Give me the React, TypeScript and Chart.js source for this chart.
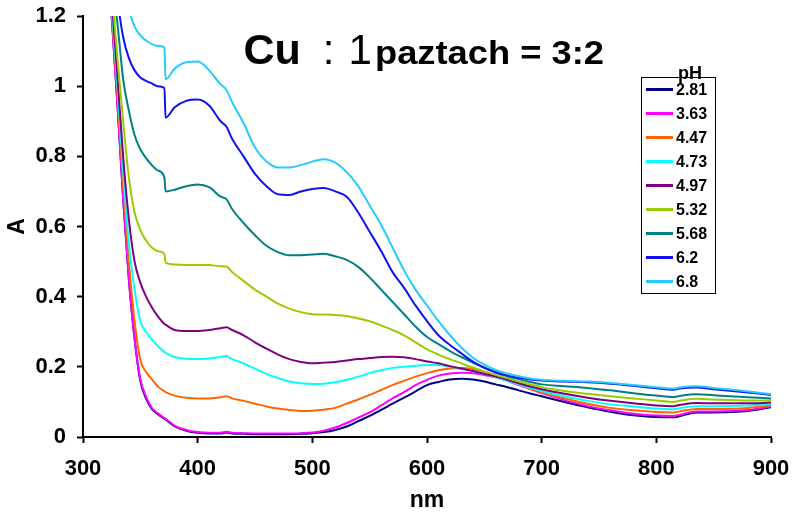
import React, { useEffect, useRef } from "react";
import { Chart, registerables } from "chart.js";

Chart.register(...registerables);

const wavelengths = [320, 325, 330, 335, 340, 345, 350, 355, 360, 365,
  371, 372, 380, 390, 400, 410, 420, 425, 430, 440,
  450, 460, 470, 480, 490, 500, 510, 520, 530, 540,
  550, 560, 570, 580, 590, 600, 610, 620, 630, 640,
  650, 660, 670, 680, 690, 700, 720, 740, 760, 780,
  800, 815, 820, 835, 850, 880, 900];

const pH281 = [1.5, 1.2, 0.95, 0.68, 0.45, 0.28, 0.16, 0.11, 0.08, 0.066,
  0.052, 0.05, 0.03, 0.018, 0.012, 0.01, 0.01, 0.013, 0.01, 0.009,
  0.008, 0.008, 0.008, 0.008, 0.009, 0.011, 0.014, 0.02, 0.03, 0.045,
  0.06, 0.077, 0.095, 0.112, 0.13, 0.148, 0.157, 0.164, 0.166, 0.164,
  0.158, 0.15, 0.142, 0.133, 0.124, 0.116, 0.1, 0.085, 0.072, 0.062,
  0.057, 0.056, 0.059, 0.07, 0.07, 0.074, 0.085];
const pH363 = [1.5, 1.2, 0.95, 0.68, 0.45, 0.28, 0.165, 0.115, 0.083, 0.068,
  0.054, 0.052, 0.032, 0.02, 0.014, 0.012, 0.012, 0.015, 0.012, 0.011,
  0.01, 0.01, 0.01, 0.01, 0.011, 0.013, 0.018, 0.027, 0.04, 0.055,
  0.07, 0.09, 0.11, 0.128, 0.148, 0.163, 0.175, 0.181, 0.183, 0.182,
  0.177, 0.17, 0.16, 0.148, 0.137, 0.125, 0.105, 0.088, 0.076, 0.066,
  0.061, 0.06, 0.063, 0.073, 0.073, 0.077, 0.087];
const pH447 = [1.5, 1.22, 0.98, 0.72, 0.5, 0.33, 0.22, 0.185, 0.165, 0.145,
  0.13, 0.128, 0.118, 0.112, 0.11, 0.11, 0.113, 0.116, 0.11, 0.103,
  0.095, 0.087, 0.081, 0.077, 0.074, 0.075, 0.078, 0.083, 0.095, 0.107,
  0.12, 0.134, 0.148, 0.16, 0.172, 0.182, 0.19, 0.195, 0.197, 0.194,
  0.186, 0.174, 0.162, 0.15, 0.138, 0.127, 0.11, 0.095, 0.083, 0.076,
  0.071, 0.07, 0.073, 0.08, 0.08, 0.083, 0.09];
const pH473 = [1.5, 1.23, 1.0, 0.76, 0.55, 0.42, 0.33, 0.3, 0.278, 0.26,
  0.242, 0.24, 0.228, 0.223, 0.222, 0.224, 0.228, 0.231, 0.222, 0.21,
  0.195, 0.18, 0.168, 0.158, 0.153, 0.151, 0.152, 0.156, 0.163, 0.172,
  0.182, 0.19, 0.197, 0.2, 0.203, 0.205, 0.205, 0.2, 0.194, 0.188,
  0.18, 0.17, 0.16, 0.15, 0.14, 0.131, 0.116, 0.103, 0.093, 0.087,
  0.081, 0.079, 0.082, 0.088, 0.088, 0.09, 0.094];
const pH497 = [1.5, 1.25, 1.03, 0.8, 0.62, 0.5, 0.44, 0.4, 0.37, 0.345,
  0.322, 0.32, 0.305, 0.302, 0.302, 0.305, 0.31, 0.313, 0.305, 0.29,
  0.27, 0.252, 0.235, 0.222, 0.214, 0.21, 0.212, 0.214, 0.218, 0.222,
  0.225, 0.228, 0.229, 0.227, 0.222, 0.215, 0.21, 0.202, 0.195, 0.188,
  0.18, 0.172, 0.163, 0.153, 0.144, 0.136, 0.123, 0.112, 0.103, 0.096,
  0.09, 0.088, 0.091, 0.097, 0.096, 0.096, 0.098];
const pH532 = [1.5, 1.28, 1.08, 0.9, 0.74, 0.64, 0.59, 0.56, 0.54, 0.53,
  0.522, 0.497, 0.492, 0.49, 0.49, 0.49, 0.487, 0.486, 0.47, 0.445,
  0.42, 0.4, 0.38, 0.366, 0.356, 0.35, 0.349, 0.348, 0.345, 0.338,
  0.33, 0.318, 0.305, 0.29, 0.27, 0.25, 0.235, 0.222, 0.21, 0.198,
  0.187, 0.177, 0.168, 0.158, 0.15, 0.142, 0.131, 0.123, 0.116, 0.11,
  0.104, 0.1, 0.103, 0.109, 0.107, 0.104, 0.104];
const pH568 = [1.5, 1.3, 1.18, 1.02, 0.93, 0.86, 0.82, 0.795, 0.775, 0.76,
  0.74, 0.70, 0.705, 0.715, 0.72, 0.712, 0.685, 0.678, 0.65, 0.61,
  0.575, 0.545, 0.527, 0.518, 0.518, 0.52, 0.522, 0.515, 0.505, 0.485,
  0.455, 0.42, 0.385, 0.35, 0.315, 0.285, 0.265, 0.245, 0.228, 0.212,
  0.198, 0.185, 0.174, 0.165, 0.157, 0.15, 0.145, 0.14, 0.133, 0.125,
  0.118, 0.114, 0.117, 0.122, 0.119, 0.113, 0.11];
const pH62 = [1.6, 1.4, 1.25, 1.14, 1.08, 1.045, 1.025, 1.015, 1.008, 1.0,
  0.995, 0.91, 0.94, 0.958, 0.962, 0.945, 0.9, 0.885, 0.85, 0.8,
  0.75, 0.715, 0.692, 0.69, 0.7, 0.707, 0.71, 0.7, 0.685, 0.64,
  0.585, 0.53, 0.47, 0.425, 0.375, 0.33, 0.29, 0.262, 0.238, 0.215,
  0.197, 0.184, 0.175, 0.169, 0.164, 0.161, 0.158, 0.156, 0.152, 0.146,
  0.139, 0.135, 0.138, 0.141, 0.136, 0.127, 0.12];
const pH68 = [1.7, 1.55, 1.4, 1.3, 1.22, 1.17, 1.145, 1.13, 1.12, 1.115,
  1.11, 1.02, 1.05, 1.068, 1.07, 1.045, 1.005, 0.99, 0.955, 0.895,
  0.825, 0.785, 0.768, 0.768, 0.775, 0.785, 0.792, 0.782, 0.755, 0.715,
  0.66, 0.605, 0.54, 0.475, 0.42, 0.375, 0.33, 0.29, 0.255, 0.226,
  0.206, 0.191, 0.181, 0.173, 0.167, 0.163, 0.16, 0.158, 0.154, 0.148,
  0.142, 0.138, 0.141, 0.145, 0.14, 0.13, 0.122];

const seriesLabels = ["2.81", "3.63", "4.47", "4.73", "4.97", "5.32", "5.68", "6.2", "6.8"];
const seriesValues = [pH281, pH363, pH447, pH473, pH497, pH532, pH568, pH62, pH68];
const seriesColors = ["#000080", "#FF00FF", "#FF6600", "#00FFFF", "#800080", "#99CC00", "#008080", "#1010F0", "#22CCFF"];

const xTicks = [300, 400, 500, 600, 700, 800, 900];
const yTicks = [0, 0.2, 0.4, 0.6, 0.8, 1, 1.2];
const legendTitle = "pH";
const xTitle = "nm";
const yTitle = "A";

const FONT = "'Liberation Sans', Arial, Helvetica, sans-serif";

const overlayPlugin = {
  id: "overlay",
  afterDraw(chart: any) {
    const ctx = chart.ctx as CanvasRenderingContext2D;
    ctx.save();
    ctx.fillStyle = "#000";
    ctx.textBaseline = "alphabetic";
    // Title
    ctx.textAlign = "left";
    ctx.font = `bold 43px ${FONT}`;
    ctx.fillText("Cu", 243.5, 64);
    ctx.font = `42px ${FONT}`;
    ctx.textAlign = "center";
    ctx.fillText(":", 328.5, 64);
    ctx.textAlign = "left";
    ctx.fillText("1", 348.5, 64);
    ctx.font = `bold 34px ${FONT}`;
    const rest = "paztach = 3:2";
    const w = ctx.measureText(rest).width;
    ctx.save();
    ctx.translate(375, 64);
    ctx.scale(229 / w, 1);
    ctx.fillText(rest, 0, 0);
    ctx.restore();

    // Legend
    const bx = 641, by = 77, bw = 74, bh = 216;
    ctx.fillStyle = "#fff";
    ctx.fillRect(bx, by, bw, bh);
    ctx.strokeStyle = "#000";
    ctx.lineWidth = 1;
    ctx.strokeRect(bx + 0.5, by + 0.5, bw, bh);
    ctx.fillStyle = "#000";
    ctx.font = `bold 18px ${FONT}`;
    ctx.textAlign = "center";
    ctx.fillText(legendTitle, 690, 79);
    ctx.textAlign = "left";
    ctx.textBaseline = "middle";
    ctx.font = `bold 16px ${FONT}`;
    seriesLabels.forEach((lab, i) => {
      const cy = 89.5 + i * 24;
      ctx.strokeStyle = seriesColors[i];
      ctx.lineWidth = 3;
      ctx.beginPath();
      ctx.moveTo(646, cy);
      ctx.lineTo(673, cy);
      ctx.stroke();
      ctx.fillStyle = "#000";
      ctx.fillText(lab, 676, cy + 1);
    });
    ctx.restore();
  },
};

export default function App() {
  const ref = useRef<HTMLCanvasElement | null>(null);
  useEffect(() => {
    if (!ref.current) return;
    const datasets = seriesLabels.map((lab, i) => ({
      label: lab,
      data: wavelengths.map((x, j) => ({ x, y: seriesValues[i][j] })),
      borderColor: seriesColors[i],
      backgroundColor: seriesColors[i],
      borderWidth: 2,
      pointRadius: 0,
      fill: false,
      cubicInterpolationMode: "monotone" as const,
      order: seriesLabels.length - i,
    }));
    const chart = new Chart(ref.current, {
      type: "line",
      data: { datasets },
      options: {
        animation: false,
        responsive: false,
        devicePixelRatio: 1,
        layout: { padding: { left: 0, right: 21, top: 16, bottom: 0 } },
        plugins: { legend: { display: false }, tooltip: { enabled: false }, title: { display: false } },
        scales: {
          x: {
            type: "linear",
            min: 300,
            max: 900,
            afterBuildTicks: (s: any) => { s.ticks = xTicks.map((v) => ({ value: v })); },
            afterFit: (s: any) => { s.height = 78; s.paddingLeft = 0; s.paddingRight = 0; },
            grid: { drawOnChartArea: false, drawTicks: true, tickLength: 6, tickColor: "#000", tickWidth: 2 },
            border: { display: true, color: "#000", width: 2 },
            ticks: { color: "#000", font: { family: FONT, size: 22, weight: "bold" }, padding: 13, maxRotation: 0 },
            title: { display: true, text: xTitle, color: "#000", font: { family: FONT, size: 23, weight: "bold" }, padding: { top: 0, bottom: 1 } },
          },
          y: {
            type: "linear",
            min: 0,
            max: 1.2,
            afterBuildTicks: (s: any) => { s.ticks = yTicks.map((v) => ({ value: v })); },
            ticks: { color: "#000", font: { family: FONT, size: 22, weight: "bold" }, padding: 11, callback: (v: any) => String(Math.round(Number(v) * 10) / 10) },
            afterFit: (s: any) => { s.width = 83; s.paddingTop = 0; s.paddingBottom = 0; },
            grid: { drawOnChartArea: false, drawTicks: true, tickLength: 6, tickColor: "#000", tickWidth: 2 },
            border: { display: true, color: "#000", width: 2 },
            title: { display: true, text: yTitle, color: "#000", font: { family: FONT, size: 23, weight: "bold" }, padding: { top: 4, bottom: 0 } },
          },
        },
      },
      plugins: [overlayPlugin],
    } as any);
    return () => chart.destroy();
  }, []);
  return (
    <div style={{ position: "absolute", left: 0, top: 0, width: 792, height: 515, background: "#fff" }}>
      <canvas ref={ref} width={792} height={515} style={{ display: "block", width: 792, height: 515 }} />
    </div>
  );
}
